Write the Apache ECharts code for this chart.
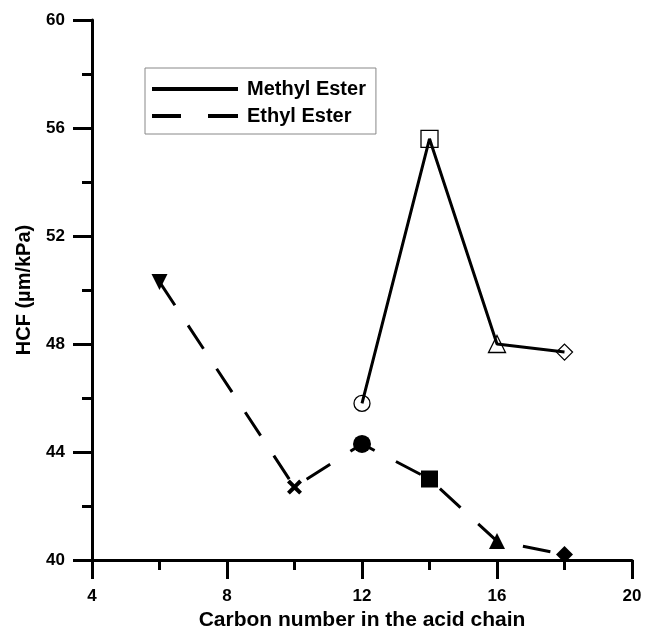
<!DOCTYPE html>
<html>
<head>
<meta charset="utf-8">
<script src="https://cdn.jsdelivr.net/npm/echarts@6/dist/echarts.min.js"></script>
<style>html,body{margin:0;padding:0;background:#fff;}#c{width:646px;height:631px;}</style>
</head>
<body>
<div id="c"></div>
<script>
// Data
const methylX = [12, 14, 16, 18];
const methylY = [45.8, 55.6, 48.0, 47.7];
const ethylX = [6, 10, 12, 14, 16, 18];
const ethylY = [50.3, 42.7, 44.3, 43.0, 40.7, 40.2];
const xTicks = [4, 8, 12, 16, 20];
const yTicks = [40, 44, 48, 52, 56, 60];
const seriesNames = ['Methyl Ester', 'Ethyl Ester'];
const xTitle = 'Carbon number in the acid chain';
const yTitle = 'HCF (µm/kPa)';

// Marker styles (not data)
const crossPath = 'path://M0,3L3,0L8,5L13,0L16,3L11,8L16,13L13,16L8,11L3,16L0,13L5,8Z';
const methylMarkers = [
  {symbol: 'circle', size: 16},
  {symbol: 'rect', size: 17},
  {symbol: 'triangle', size: 17},
  {symbol: 'diamond', size: 16}
];
const ethylMarkers = [
  {symbol: 'triangle', size: 16, rotate: 180},
  {symbol: crossPath, size: 15},
  {symbol: 'circle', size: 18},
  {symbol: 'rect', size: 17},
  {symbol: 'triangle', size: 16},
  {symbol: 'diamond', size: 17}
];

const FONT = '"Liberation Sans", Arial, sans-serif';

const methylData = methylX.map((x, i) => ({
  value: [x, methylY[i]],
  symbol: methylMarkers[i].symbol,
  symbolSize: methylMarkers[i].size,
  itemStyle: {color: 'rgba(255,255,255,0)', borderColor: '#000', borderWidth: 1.3}
}));
const ethylData = ethylX.map((x, i) => ({
  value: [x, ethylY[i]],
  symbol: ethylMarkers[i].symbol,
  symbolSize: ethylMarkers[i].size,
  symbolRotate: ethylMarkers[i].rotate || 0,
  itemStyle: {color: '#000', borderColor: '#000', borderWidth: 0}
}));

const axisCommon = {
  type: 'value',
  interval: 4,
  axisLine: {show: true, lineStyle: {color: '#000', width: 3}},
  axisTick: {show: true, inside: false, length: 19, lineStyle: {color: '#000', width: 3}},
  minorTick: {show: true, splitNumber: 2, length: 10, lineStyle: {color: '#000', width: 3}},
  splitLine: {show: false},
  minorSplitLine: {show: false},
  nameLocation: 'middle',
  nameMoveOverlap: false,
  nameTextStyle: {color: '#000', fontFamily: FONT, fontWeight: 'bold', fontSize: 20},
  axisLabel: {color: '#000', fontFamily: FONT, fontWeight: 'bold', fontSize: 17}
};

const chart = echarts.init(document.getElementById('c'), null, {renderer: 'canvas'});
chart.setOption({
  animation: false,
  backgroundColor: '#fff',
  grid: {left: 92, right: 14, top: 20, bottom: 71, containLabel: false, outerBoundsMode: 'none'},
  legend: {
    left: 145, top: 68,
    orient: 'vertical',
    borderColor: '#888', borderWidth: 1,
    padding: [11, 10, 8, 7],
    itemGap: 7,
    itemWidth: 86, itemHeight: 4,
    textStyle: {color: '#000', fontFamily: FONT, fontWeight: 'bold', fontSize: 20, padding: [0, 0, 0, 4]},
    data: [
      {name: seriesNames[0], icon: 'path://M0,0H86V4H0Z', itemStyle: {color: '#000'}},
      {name: seriesNames[1], icon: 'path://M0,0H29V4H0Z M56,0H86V4H56Z', itemStyle: {color: '#000'}}
    ]
  },
  xAxis: Object.assign({}, axisCommon, {
    min: xTicks[0], max: xTicks[xTicks.length - 1],
    name: xTitle, nameGap: 50,
    nameTextStyle: Object.assign({}, axisCommon.nameTextStyle, {fontSize: 21}),
    axisLabel: Object.assign({}, axisCommon.axisLabel, {margin: 28})
  }),
  yAxis: Object.assign({}, axisCommon, {
    min: yTicks[0], max: yTicks[yTicks.length - 1],
    name: yTitle, nameGap: 58,
    axisLabel: Object.assign({}, axisCommon.axisLabel, {margin: 27})
  }),
  series: [
    {
      name: seriesNames[0], type: 'line', data: methylData,
      lineStyle: {color: '#000', width: 3},
      itemStyle: {color: '#000'},
      z: 3
    },
    {
      name: seriesNames[1], type: 'line', data: ethylData,
      lineStyle: {color: '#000', width: 3, type: [28, 24]},
      itemStyle: {color: '#000'},
      z: 3
    }
  ]
});
</script>
</body>
</html>
